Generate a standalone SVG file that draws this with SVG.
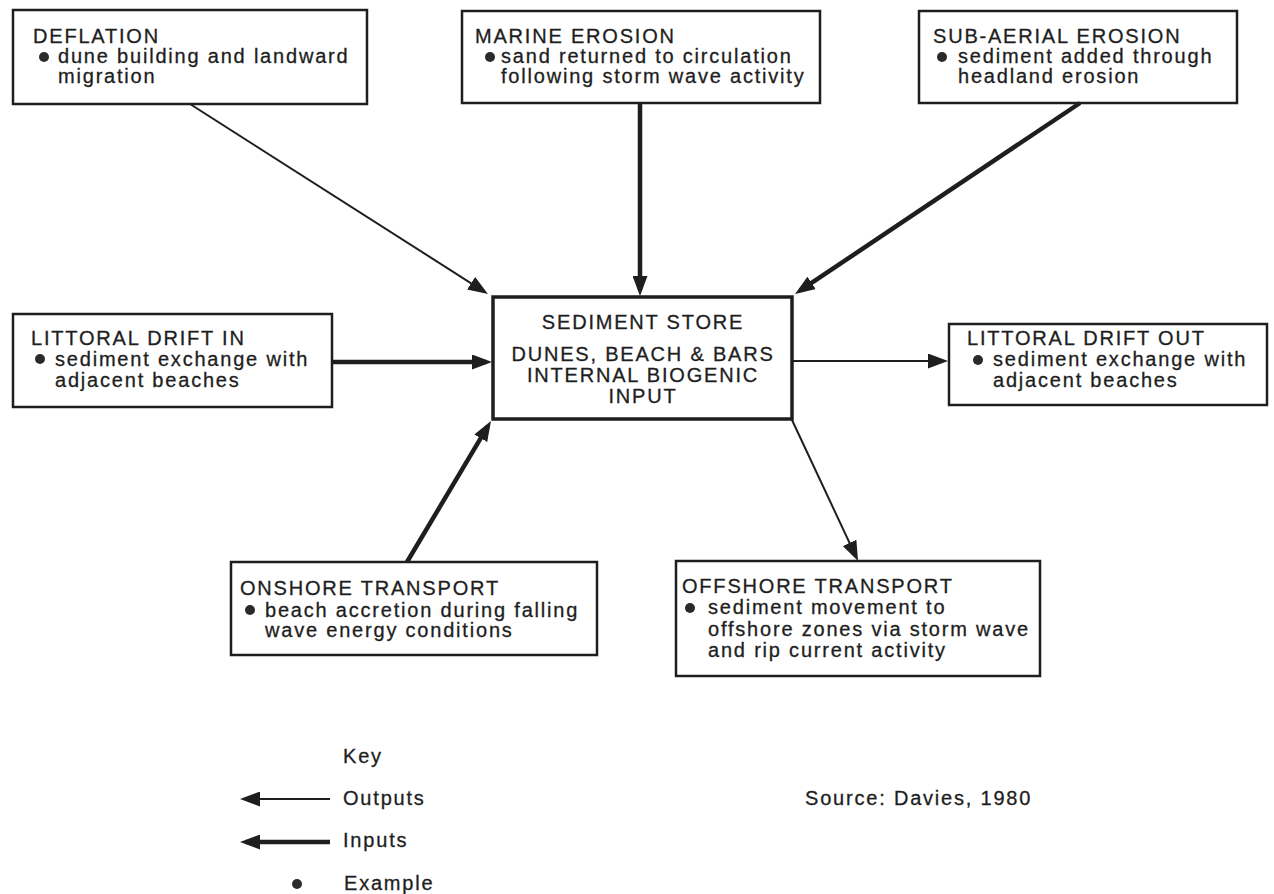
<svg xmlns="http://www.w3.org/2000/svg" width="1274" height="894" viewBox="0 0 1274 894">
<style>
.box{fill:#fff;stroke:#1e1e1e;stroke-width:2.5}
.t{font-family:"Liberation Sans",Arial,sans-serif;font-size:20px;letter-spacing:1.8px;fill:#1e1e1e;stroke:#1e1e1e;stroke-width:0.3}
.c{text-anchor:middle}
.dot{fill:#2a2a2a}
.thin{stroke:#1e1e1e;stroke-width:2;fill:none}
.thick{stroke:#1e1e1e;stroke-width:4.5;fill:none}
</style>
<defs>
<marker id="ah" viewBox="0 0 20 15" refX="14" refY="7.5" markerWidth="20" markerHeight="15" markerUnits="userSpaceOnUse" orient="auto">
<path d="M0,0 L20,7.5 L0,15 z" fill="#1e1e1e"/>
</marker>
</defs>
<rect width="1274" height="894" fill="#fff"/>

<g id="deflation">
<rect class="box" x="13" y="10" width="354" height="94"/>
<text class="t" x="33" y="43">DEFLATION</text>
<circle class="dot" cx="44" cy="57" r="5"/>
<text class="t" x="58" y="63">dune building and landward</text>
<text class="t" x="58" y="83">migration</text>
</g>

<g id="marine-erosion">
<rect class="box" x="462" y="11" width="358" height="92"/>
<text class="t" x="475" y="43">MARINE EROSION</text>
<circle class="dot" cx="490" cy="57" r="5"/>
<text class="t" x="501" y="63">sand returned to circulation</text>
<text class="t" x="501" y="83">following storm wave activity</text>
</g>

<g id="sub-aerial-erosion">
<rect class="box" x="919" y="11" width="318" height="92"/>
<text class="t" x="933" y="43">SUB-AERIAL EROSION</text>
<circle class="dot" cx="942" cy="57" r="5"/>
<text class="t" x="958" y="63">sediment added through</text>
<text class="t" x="958" y="83">headland erosion</text>
</g>

<g id="littoral-drift-in">
<rect class="box" x="13" y="314" width="319" height="93"/>
<text class="t" x="31" y="345">LITTORAL DRIFT IN</text>
<circle class="dot" cx="40" cy="359" r="5"/>
<text class="t" x="55" y="366">sediment exchange with</text>
<text class="t" x="55" y="387">adjacent beaches</text>
</g>

<g id="sediment-store">
<rect class="box" x="493" y="297" width="299" height="122" style="stroke-width:3.5"/>
<text class="t c" x="643" y="329">SEDIMENT STORE</text>
<text class="t c" x="643" y="361">DUNES, BEACH &amp; BARS</text>
<text class="t c" x="643" y="382">INTERNAL BIOGENIC</text>
<text class="t c" x="643" y="403">INPUT</text>
</g>

<g id="littoral-drift-out">
<rect class="box" x="949" y="324" width="318" height="81"/>
<text class="t" x="967" y="345">LITTORAL DRIFT OUT</text>
<circle class="dot" cx="978" cy="360" r="5"/>
<text class="t" x="993" y="366">sediment exchange with</text>
<text class="t" x="993" y="387">adjacent beaches</text>
</g>

<g id="onshore-transport">
<rect class="box" x="231" y="562" width="366" height="93"/>
<text class="t" x="240" y="595">ONSHORE TRANSPORT</text>
<circle class="dot" cx="250" cy="610" r="5"/>
<text class="t" x="265" y="617">beach accretion during falling</text>
<text class="t" x="265" y="637">wave energy conditions</text>
</g>

<g id="offshore-transport">
<rect class="box" x="676" y="561" width="364" height="115"/>
<text class="t" x="682" y="593">OFFSHORE TRANSPORT</text>
<circle class="dot" cx="690" cy="608" r="5"/>
<text class="t" x="708" y="614">sediment movement to</text>
<text class="t" x="708" y="636">offshore zones via storm wave</text>
<text class="t" x="708" y="657">and rip current activity</text>
</g>

<g id="connectors">
<line class="thin" x1="190" y1="104" x2="482.9" y2="290.8" marker-end="url(#ah)"/>
<line class="thick" x1="640" y1="103" x2="640" y2="290" marker-end="url(#ah)"/>
<line class="thick" x1="1080" y1="103" x2="800" y2="290.7" marker-end="url(#ah)"/>
<line class="thick" x1="332" y1="362" x2="486" y2="362" marker-end="url(#ah)"/>
<line class="thick" x1="407" y1="562" x2="487.9" y2="426.2" marker-end="url(#ah)"/>
<line class="thin" x1="792" y1="361" x2="942" y2="361" marker-end="url(#ah)"/>
<line class="thin" x1="792" y1="420" x2="855.5" y2="555.6" marker-end="url(#ah)"/>
</g>

<g id="key">
<text class="t" x="343" y="763">Key</text>
<line class="thin" x1="330" y1="799" x2="246" y2="799" marker-end="url(#ah)"/>
<text class="t" x="343" y="805">Outputs</text>
<line class="thick" x1="330" y1="842" x2="246" y2="842" marker-end="url(#ah)"/>
<text class="t" x="343" y="847">Inputs</text>
<circle class="dot" cx="297" cy="884" r="5"/>
<text class="t" x="344" y="890">Example</text>
</g>

<g id="source">
<text class="t" x="805" y="805">Source: Davies, 1980</text>
</g>
</svg>
